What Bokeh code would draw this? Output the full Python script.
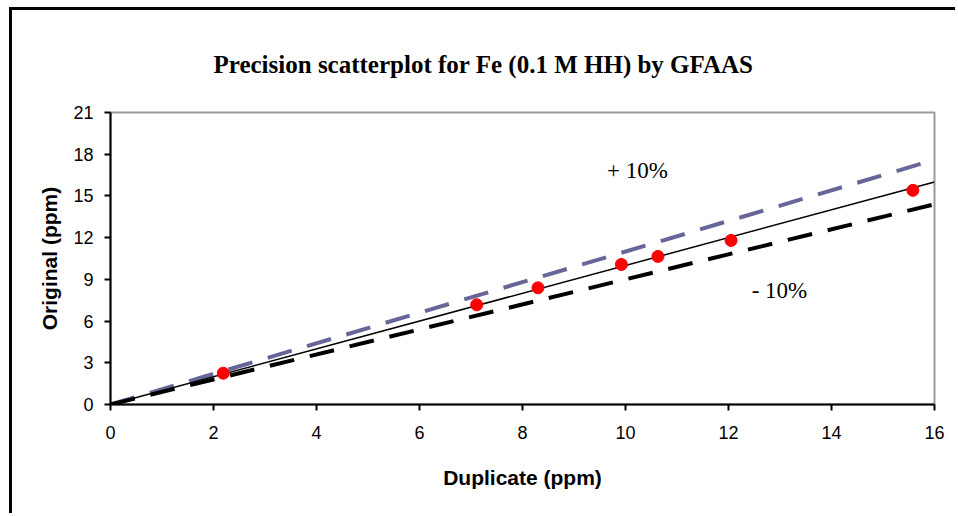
from bokeh.plotting import figure
from bokeh.models import Range1d, FixedTicker, Label, Title
from bokeh.embed import file_html
from bokeh.resources import INLINE

# Data
duplicate = [2.19, 7.11, 8.30, 9.92, 10.63, 12.05, 15.58]
original = [2.25, 7.17, 8.39, 10.07, 10.65, 11.80, 15.40]

line_x = [0, 16]
one_to_one = [0, 16]
plus_10 = [0, 17.6]
minus_10 = [0, 14.4]

x_ticks = [0, 2, 4, 6, 8, 10, 12, 14, 16]
y_ticks = [0, 3, 6, 9, 12, 15, 18, 21]

title_text = "Precision scatterplot for Fe (0.1 M HH) by GFAAS"

# canvas starts at (12, 10) because of the outer chart-area border
p = figure(width=946, height=506, output_backend="svg", toolbar_location=None,
           x_range=Range1d(0, 16), y_range=Range1d(0, 21),
           min_border_left=98, min_border_right=24,
           min_border_top=102, min_border_bottom=112)
p.styles = {"margin-left": "9px", "margin-top": "7px",
            "border-left": "3px solid black", "border-top": "3px solid black"}

p.title = Title(text=title_text, align="left", offset=103,
                text_font="Liberation Serif", text_font_size="25px",
                text_font_style="bold", text_color="black", standoff=70)

p.xgrid.visible = False
p.ygrid.visible = False
p.background_fill_color = "white"
p.border_fill_color = "white"
p.outline_line_color = "#9a9a9a"
p.outline_line_width = 2

for ax in (p.xaxis[0], p.yaxis[0]):
    ax.axis_line_color = "black"
    ax.axis_line_width = 2
    ax.major_tick_line_color = "black"
    ax.major_tick_line_width = 2
    ax.major_tick_in = 0
    ax.major_tick_out = 6
    ax.minor_tick_line_color = None
    ax.major_label_text_font = "Liberation Sans"
    ax.major_label_text_font_size = "18px"
    ax.major_label_text_color = "black"
    ax.axis_label_text_font = "Liberation Sans"
    ax.axis_label_text_font_size = "21px"
    ax.axis_label_text_font_style = "bold"
    ax.axis_label_text_color = "black"

p.xaxis[0].ticker = FixedTicker(ticks=x_ticks)
p.yaxis[0].ticker = FixedTicker(ticks=y_ticks)
p.xaxis[0].axis_label = "Duplicate (ppm)"
p.yaxis[0].axis_label = "Original (ppm)"
p.xaxis[0].major_label_standoff = 15
p.xaxis[0].axis_label_standoff = 24
p.yaxis[0].major_label_standoff = 11
p.yaxis[0].axis_label_standoff = 9

p.line(line_x, plus_10, line_color="#666699", line_width=4, line_dash="25 16")
p.line(line_x, minus_10, line_color="black", line_width=4, line_dash="25 16")
p.line(line_x, one_to_one, line_color="black", line_width=1.5)
p.scatter(duplicate, original, marker="circle", size=12,
          fill_color="#ff0000", line_color="#ff0000")

p.add_layout(Label(x=10.23, y=16.8, text="+ 10%", text_align="center",
                   text_baseline="middle", text_font="Liberation Serif",
                   text_font_size="23px", text_color="black"))
p.add_layout(Label(x=12.99, y=8.2, text="- 10%", text_align="center",
                   text_baseline="middle", text_font="Liberation Serif",
                   text_font_size="23px", text_color="black"))

open("out.html", "w").write(file_html(p, INLINE))
